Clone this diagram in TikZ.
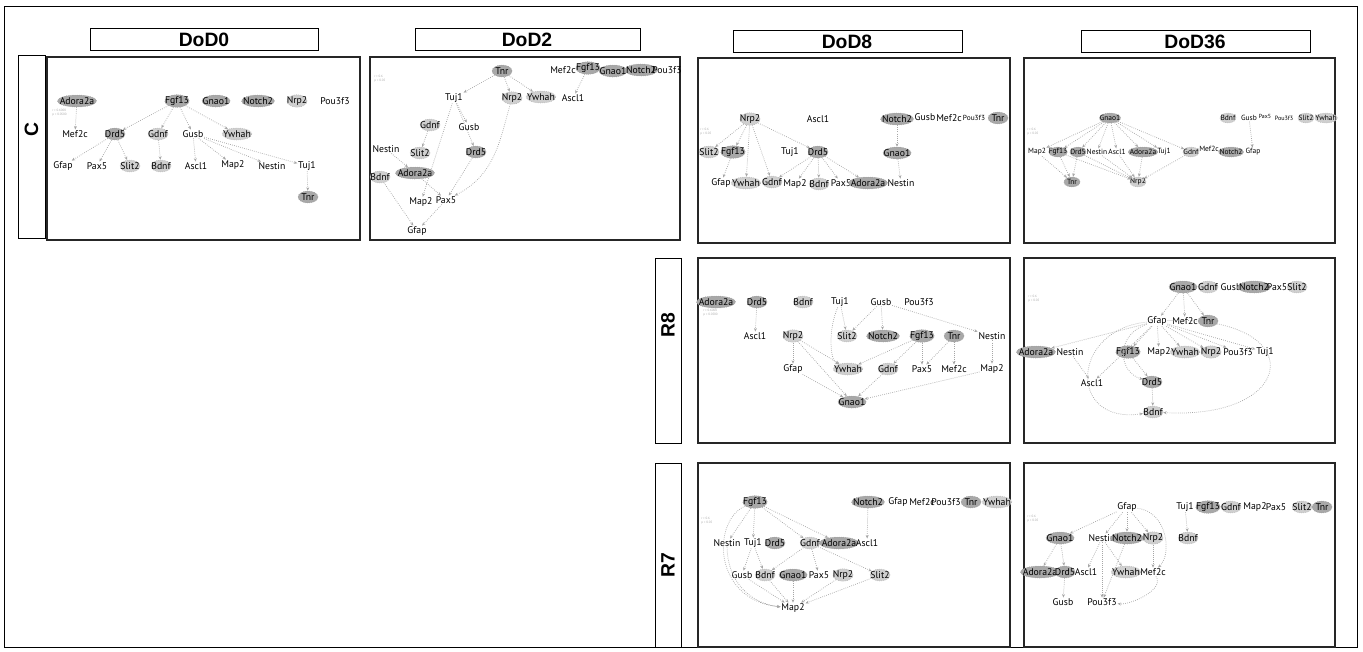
\documentclass[tikz,border=0pt]{standalone}
\usepackage{fontspec}
\setmainfont{Liberation Sans}
\newfontfamily\gf{PT Sans}
\usetikzlibrary{shapes.geometric,arrows.meta}
\def\gsz{7.3}
\tikzset{
  gene/.style={font=\gf\fontsize{\gsz}{\gsz}\selectfont, inner sep=0.5pt},
  tx/.style={gene},
  dk/.style={gene, ellipse, fill=gray!68, draw=gray!85, densely dotted, inner xsep=-2.5pt, inner ysep=0pt, minimum width=15pt, minimum height=9pt},
  lt/.style={dk, fill=gray!38, draw=gray!65},
  ed/.style={draw=gray!70, densely dotted, line width=0.55pt, -{Stealth[length=2.6pt,width=2.2pt]}},
  cellbox/.style={draw=black!85, line width=0.9pt},
  framebox/.style={draw=black, line width=0.6pt},
  hdr/.style={font=\bfseries\fontsize{14.5}{16}\selectfont, inner sep=0pt},
  tinyt/.style={font=\gf\fontsize{2.4}{2.8}\selectfont, text=gray!70, align=left, inner sep=0pt, anchor=north west},
  smallcell/.style={dk/.append style={minimum width=12pt, minimum height=7.5pt, inner xsep=-2pt}}
}
\begin{document}
\begin{tikzpicture}[x=0.75pt,y=-0.75pt]
\useasboundingbox (0,0) rectangle (1363,651);
\draw[framebox] (4,6) rectangle (1357,647);
% headers
\draw[framebox] (90,28) rectangle (318,50);
\node[hdr] (hD0) at (204,39.5) {DoD0};
\draw[framebox] (415,28) rectangle (640,50);
\node[hdr] (hD2) at (527,39.5) {DoD2};
\draw[framebox] (733,30) rectangle (962,52);
\node[hdr] (hD8) at (847,41.5) {DoD8};
\draw[framebox] (1081,30) rectangle (1310,52);
\node[hdr] (hD36) at (1195,41.5) {DoD36};
% row labels
\draw[framebox] (18,55) rectangle (45,238);
\node[hdr, rotate=90] (rC) at (31.5,130) {C};
\draw[framebox] (655,258) rectangle (681,443);
\node[hdr, rotate=90] (rR8) at (668,325) {R8};
\draw[framebox] (655,463) rectangle (681,647);
\node[hdr, rotate=90] (rR7) at (668,565) {R7};
% cells
\draw[cellbox] (47,57) rectangle (360,240);
\draw[cellbox] (370,57) rectangle (680,240);
\draw[cellbox] (698,58) rectangle (1010,243);
\draw[cellbox] (1024,58) rectangle (1335,243);
\draw[cellbox] (698,258) rectangle (1010,443);
\draw[cellbox] (1024,258) rectangle (1335,443);
\draw[cellbox] (698,463) rectangle (1010,647);
\draw[cellbox] (1024,463) rectangle (1335,647);

% ---------- C / DoD0 ----------
\node[dk] (aAdo) at (77,101) {Adora2a};
\node[dk] (aFgf) at (177,101) {Fgf13};
\node[dk] (aGna) at (216,101) {Gnao1};
\node[dk] (aNot) at (258,101) {Notch2};
\node[lt] (aNrp) at (297,101) {Nrp2};
\node[tx] (aPou) at (335,101) {Pou3f3};
\node[tinyt] (aLeg) at (52,109) {r > 0.6000\\p < 0.0500};
\node[tx] (aMef) at (75,134) {Mef2c};
\node[dk] (aDrd) at (115,134) {Drd5};
\node[lt] (aGdn) at (158,134) {Gdnf};
\node[tx] (aGus) at (193,134) {Gusb};
\node[lt] (aYwh) at (237,134) {Ywhah};
\node[tx] (aGfa) at (63,166) {Gfap};
\node[tx] (aPax) at (97,166) {Pax5};
\node[lt] (aSli) at (130,166) {Slit2};
\node[lt] (aBdn) at (161,166) {Bdnf};
\node[tx] (aAsc) at (196,166) {Ascl1};
\node[tx] (aMap) at (233,165) {Map2};
\node[tx] (aNes) at (272,166) {Nestin};
\node[tx] (aTuj) at (307,166) {Tuj1};
\node[dk] (aTnr) at (308,197) {Tnr};
\draw[ed] (aAdo) -- (aMef);
\draw[ed] (aFgf) -- (aDrd);
\draw[ed] (aFgf) -- (aGdn);
\draw[ed] (aFgf) -- (aGus);
\draw[ed] (aFgf) -- (aYwh);
\draw[ed] (aDrd) -- (aGfa);
\draw[ed] (aDrd) -- (aPax);
\draw[ed] (aDrd) -- (aSli);
\draw[ed] (aGdn) -- (aBdn);
\draw[ed] (aGus) -- (aAsc);
\draw[ed] (aGus) -- (aMap);
\draw[ed] (aGus) -- (aNes);
\draw[ed] (aGus) -- (aTuj);
\draw[ed] (aTuj) -- (aTnr);

% ---------- C / DoD2 ----------
\node[tinyt] (bLeg) at (374,75) {r > 0.6\\p < 0.05};
\node[dk] (bTnr) at (502,71) {Tnr};
\node[tx] (bMef) at (563,70) {Mef2c};
\node[dk] (bFgf) at (588,68) {Fgf13};
\node[dk] (bGna) at (613,71) {Gnao1};
\node[dk] (bNot) at (641,70) {Notch2};
\node[tx] (bPou) at (667,70) {Pou3f3};
\node[lt] (bNrp) at (512,98) {Nrp2};
\node[lt] (bYwh) at (541,97) {Ywhah};
\node[tx] (bAsc) at (573,98) {Ascl1};
\node[tx] (bTuj) at (454,98) {Tuj1};
\node[lt] (bGdn) at (430,125) {Gdnf};
\node[tx] (bGus) at (469,127) {Gusb};
\node[tx] (bNes) at (386,149) {Nestin};
\node[lt] (bSli) at (420,153) {Slit2};
\node[dk] (bDrd) at (476,152) {Drd5};
\node[lt] (bBdn) at (380,177) {Bdnf};
\node[dk] (bAdo) at (415,173) {Adora2a};
\node[tx] (bMap) at (421,202) {Map2};
\node[tx] (bPax) at (446,200) {Pax5};
\node[tx] (bGfa) at (417,231) {Gfap};
\draw[ed] (bTnr) -- (bTuj);
\draw[ed] (bTnr) -- (bNrp);
\draw[ed] (bTnr) -- (bYwh);
\draw[ed] (bFgf) -- (bAsc);
\draw[ed] (bTuj) -- (bGus);
\draw[ed] (bTuj) -- (bDrd);
\draw[ed] (bTuj) -- (bMap);
\draw[ed] (bNrp) .. controls (500,140) and (495,175) .. (bPax);
\draw[ed] (bDrd) -- (bPax);
\draw[ed] (bGdn) -- (bSli);
\draw[ed] (bNes) -- (bAdo);
\draw[ed] (bAdo) -- (bPax);
\draw[ed] (bBdn) -- (bGfa);
\draw[ed] (bPax) -- (bGfa);

% ---------- C / DoD8 ----------
\node[lt] (cNrp) at (750,119) {Nrp2};
\node[tx] (cAsc) at (818,119) {Ascl1};
\node[dk] (cNot) at (897,119) {Notch2};
\node[tx] (cGus) at (925,117) {Gusb};
\node[tx] (cMef) at (949,118) {Mef2c};
\node[tx, font=\gf\fontsize{5.5}{6}\selectfont] (cPou) at (974,118) {Pou3f3};
\node[dk] (cTnr) at (998,118) {Tnr};
\node[tinyt] (cLeg) at (700,128) {r > 0.6\\p < 0.05};
\node[lt] (cSli) at (709,152) {Slit2};
\node[dk] (cFgf) at (733,152) {Fgf13};
\node[tx] (cTuj) at (790,152) {Tuj1};
\node[dk] (cDrd) at (818,152) {Drd5};
\node[dk] (cGna) at (897,153) {Gnao1};
\node[tx] (cGfa) at (721,183) {Gfap};
\node[lt] (cYwh) at (746,183) {Ywhah};
\node[lt] (cGdn) at (772,182) {Gdnf};
\node[tx] (cMap) at (795,184) {Map2};
\node[lt] (cBdn) at (819,184) {Bdnf};
\node[tx] (cPax) at (841,183) {Pax5};
\node[dk] (cAdo) at (868,183) {Adora2a};
\node[tx] (cNes) at (901,183) {Nestin};
\draw[ed] (cNrp) -- (cSli);
\draw[ed] (cNrp) -- (cFgf);
\draw[ed] (cNrp) -- (cYwh);
\draw[ed] (cNrp) -- (cGdn);
\draw[ed] (cNrp) -- (cDrd);
\draw[ed] (cFgf) -- (cGfa);
\draw[ed] (cDrd) -- (cGdn);
\draw[ed] (cDrd) -- (cMap);
\draw[ed] (cDrd) -- (cBdn);
\draw[ed] (cDrd) -- (cPax);
\draw[ed] (cDrd) -- (cAdo);
\draw[ed] (cNot) -- (cGna);
\draw[ed] (cGna) -- (cNes);

% ---------- C / DoD36 ----------
\begin{scope}[smallcell]
\def\gsz{5.6}
\node[tinyt] (dLeg) at (1027,128) {r > 0.6\\p < 0.05};
\node[dk] (dGna) at (1110,118) {Gnao1};
\node[lt] (dBdn) at (1228,118) {Bdnf};
\node[tx] (dGus) at (1249,118) {Gusb};
\node[tx, font=\gf\fontsize{4.4}{5}\selectfont] (dPax) at (1265,116) {Pax5};
\node[tx, font=\gf\fontsize{4.6}{5}\selectfont] (dPou) at (1284,118) {Pou3f3};
\node[lt] (dSli) at (1306,118) {Slit2};
\node[lt] (dYwh) at (1326,118) {Ywhah};
\node[tx] (dMap) at (1037,152) {Map2};
\node[dk] (dFgf) at (1058,152) {Fgf13};
\node[dk] (dDrd) at (1078,152) {Drd5};
\node[tx] (dNes) at (1097,152) {Nestin};
\node[tx] (dAsc) at (1117,152) {Ascl1};
\node[dk] (dAdo) at (1143,152) {Adora2a};
\node[tx] (dTuj) at (1164,152) {Tuj1};
\node[lt] (dGdn) at (1191,152) {Gdnf};
\node[tx] (dMef) at (1209,149) {Mef2c};
\node[dk] (dNot) at (1231,152) {Notch2};
\node[tx] (dGfa) at (1253,152) {Gfap};
\node[dk] (dTnr) at (1072,182) {Tnr};
\node[lt] (dNrp) at (1138,182) {Nrp2};
\draw[ed] (dGna) -- (dMap);
\draw[ed] (dGna) -- (dFgf);
\draw[ed] (dGna) -- (dDrd);
\draw[ed] (dGna) -- (dNes);
\draw[ed] (dGna) -- (dAsc);
\draw[ed] (dGna) -- (dAdo);
\draw[ed] (dGna) -- (dTuj);
\draw[ed] (dGna) -- (dGdn);
\draw[ed] (dMap) -- (dTnr);
\draw[ed] (dFgf) -- (dTnr);
\draw[ed] (dDrd) -- (dTnr);
\draw[ed] (dFgf) -- (dNrp);
\draw[ed] (dDrd) -- (dNrp);
\draw[ed] (dNes) -- (dNrp);
\draw[ed] (dAsc) -- (dNrp);
\draw[ed] (dAdo) -- (dNrp);
\draw[ed] (dGdn) -- (dNrp);
\draw[ed] (dGus) -- (dGfa);
\end{scope}

% ---------- R8 / DoD8 ----------
\node[dk] (eAdo) at (716,302) {Adora2a};
\node[tinyt] (eLeg) at (703,309) {r > 0.6000\\p < 0.0500};
\node[dk] (eDrd) at (757,302) {Drd5};
\node[lt] (eBdn) at (803,302) {Bdnf};
\node[tx] (eTuj) at (840,302) {Tuj1};
\node[tx] (eGus) at (881,302) {Gusb};
\node[tx] (ePou) at (919,302) {Pou3f3};
\node[tx] (eAsc) at (755,336) {Ascl1};
\node[lt] (eNrp) at (793,336) {Nrp2};
\node[lt] (eSli) at (847,336) {Slit2};
\node[dk] (eNot) at (883,336) {Notch2};
\node[dk] (eFgf) at (922,336) {Fgf13};
\node[dk] (eTnr) at (954,336) {Tnr};
\node[tx] (eNes) at (992,336) {Nestin};
\node[tx] (eGfa) at (793,369) {Gfap};
\node[lt] (eYwh) at (848,369) {Ywhah};
\node[lt] (eGdn) at (888,369) {Gdnf};
\node[tx] (ePax) at (922,369) {Pax5};
\node[tx] (eMef) at (954,369) {Mef2c};
\node[tx] (eMap) at (992,369) {Map2};
\node[dk] (eGna) at (852,402) {Gnao1};
\draw[ed] (eDrd) -- (eAsc);
\draw[ed] (eTuj) -- (eSli);
\draw[ed] (eTuj) .. controls (828,330) and (830,360) .. (eYwh);
\draw[ed] (eGus) -- (eSli);
\draw[ed] (eGus) -- (eNot);
\draw[ed] (eGus) -- (eNes);
\draw[ed] (eNrp) -- (eGfa);
\draw[ed] (eNrp) -- (eYwh);
\draw[ed] (eNrp) -- (eGna);
\draw[ed] (eFgf) -- (eYwh);
\draw[ed] (eFgf) -- (eGdn);
\draw[ed] (eFgf) -- (ePax);
\draw[ed] (eTnr) -- (ePax);
\draw[ed] (eTnr) -- (eMef);
\draw[ed] (eNes) -- (eMap);
\draw[ed] (eGfa) -- (eGna);
\draw[ed] (eGdn) -- (eGna);
\draw[ed] (eMap) -- (eGna);

% ---------- R8 / DoD36 ----------
\node[tinyt] (fLeg) at (1028,295) {r > 0.6\\p < 0.05};
\node[dk] (fGna) at (1183,287) {Gnao1};
\node[lt] (fGdn) at (1208,287) {Gdnf};
\node[tx] (fGus) at (1231,287) {Gusb};
\node[dk] (fNot) at (1254,287) {Notch2};
\node[tx] (fPax) at (1277,287) {Pax5};
\node[lt] (fSli) at (1297,287) {Slit2};
\node[tx] (fGfa) at (1157,321) {Gfap};
\node[tx] (fMef) at (1185,321) {Mef2c};
\node[dk] (fTnr) at (1208,321) {Tnr};
\node[dk] (fAdo) at (1036,352) {Adora2a};
\node[tx] (fNes) at (1070,352) {Nestin};
\node[dk] (fFgf) at (1128,352) {Fgf13};
\node[tx] (fMap) at (1159,352) {Map2};
\node[lt] (fYwh) at (1185,352) {Ywhah};
\node[lt] (fNrp) at (1211,352) {Nrp2};
\node[tx] (fPou) at (1238,352) {Pou3f3};
\node[tx] (fTuj) at (1265,352) {Tuj1};
\node[tx] (fAsc) at (1092,383) {Ascl1};
\node[dk] (fDrd) at (1152,382) {Drd5};
\node[lt] (fBdn) at (1153,412) {Bdnf};
\draw[ed] (fGna) -- (fGfa);
\draw[ed] (fGna) -- (fMef);
\draw[ed] (fGna) -- (fTnr);
\draw[ed] (fGfa) -- (fAdo);
\draw[ed] (fGfa) -- (fFgf);
\draw[ed] (fGfa) -- (fMap);
\draw[ed] (fGfa) -- (fYwh);
\draw[ed] (fGfa) -- (fNrp);
\draw[ed] (fGfa) -- (fPou);
\draw[ed] (fGfa) -- (fTuj);
\draw[ed] (fGfa) -- (fAsc);
\draw[ed] (fNes) -- (fAsc);
\draw[ed] (fFgf) -- (fDrd);
\draw[ed] (fGfa) .. controls (1115,335) and (1118,372) .. (fDrd);
\draw[ed] (fDrd) -- (fBdn);
\draw[ed] (fGfa) .. controls (1070,330) and (1068,425) .. (fBdn);
\draw[ed] (fGfa) .. controls (1310,315) and (1300,420) .. (fBdn);

% ---------- R7 / DoD8 ----------
\node[tinyt] (gLeg) at (701,517) {r > 0.6\\p < 0.05};
\node[dk] (gFgf) at (755,502) {Fgf13};
\node[dk] (gNot) at (868,502) {Notch2};
\node[tx] (gGfa) at (898,502) {Gfap};
\node[tx] (gMef) at (922,502) {Mef2c};
\node[tx] (gPou) at (946,502) {Pou3f3};
\node[dk] (gTnr) at (971,502) {Tnr};
\node[lt] (gYwh) at (997,502) {Ywhah};
\node[tx] (gNes) at (727,543) {Nestin};
\node[tx] (gTuj) at (753,543) {Tuj1};
\node[dk] (gDrd) at (775,543) {Drd5};
\node[lt] (gGdn) at (810,543) {Gdnf};
\node[dk] (gAdo) at (839,543) {Adora2a};
\node[tx] (gAsc) at (867,543) {Ascl1};
\node[tx] (gGus) at (742,575) {Gusb};
\node[lt] (gBdn) at (765,575) {Bdnf};
\node[dk] (gGna) at (793,575) {Gnao1};
\node[tx] (gPax) at (819,575) {Pax5};
\node[lt] (gNrp) at (843,575) {Nrp2};
\node[lt] (gSli) at (880,575) {Slit2};
\node[tx] (gMap) at (793,608) {Map2};
\draw[ed] (gFgf) -- (gNes);
\draw[ed] (gFgf) -- (gTuj);
\draw[ed] (gFgf) -- (gGdn);
\draw[ed] (gFgf) -- (gAdo);
\draw[ed] (gFgf) .. controls (712,520) and (712,600) .. (gMap);
\draw[ed] (gNot) -- (gAsc);
\draw[ed] (gTuj) -- (gGus);
\draw[ed] (gTuj) -- (gBdn);
\draw[ed] (gGdn) -- (gBdn);
\draw[ed] (gGdn) -- (gPax);
\draw[ed] (gGdn) -- (gSli);
\draw[ed] (gNes) .. controls (728,590) and (760,605) .. (gMap);
\draw[ed] (gGus) -- (gMap);
\draw[ed] (gBdn) -- (gMap);
\draw[ed] (gGna) -- (gMap);
\draw[ed] (gNrp) -- (gMap);
\draw[ed] (gSli) -- (gMap);

% ---------- R7 / DoD36 ----------
\node[tinyt] (hLeg) at (1027,515) {r > 0.6\\p < 0.05};
\node[tx] (hGfa) at (1127,507) {Gfap};
\node[tx] (hTuj) at (1185,507) {Tuj1};
\node[dk] (hFgf) at (1208,507) {Fgf13};
\node[lt] (hGdn) at (1231,507) {Gdnf};
\node[tx] (hMap) at (1255,507) {Map2};
\node[tx] (hPax) at (1276,507) {Pax5};
\node[lt] (hSli) at (1302,507) {Slit2};
\node[dk] (hTnr) at (1322,507) {Tnr};
\node[dk] (hGna) at (1060,538) {Gnao1};
\node[tx] (hNes) at (1102,538) {Nestin};
\node[dk] (hNot) at (1127,538) {Notch2};
\node[lt] (hNrp) at (1153,538) {Nrp2};
\node[lt] (hBdn) at (1188,538) {Bdnf};
\node[dk] (hAdo) at (1040,572) {Adora2a};
\node[dk] (hDrd) at (1065,572) {Drd5};
\node[tx] (hAsc) at (1086,572) {Ascl1};
\node[lt] (hYwh) at (1126,572) {Ywhah};
\node[tx] (hMef) at (1153,572) {Mef2c};
\node[tx] (hGus) at (1063,602) {Gusb};
\node[tx] (hPou) at (1102,602) {Pou3f3};
\draw[ed] (hGfa) -- (hGna);
\draw[ed] (hGfa) -- (hNes);
\draw[ed] (hGfa) -- (hNot);
\draw[ed] (hGfa) -- (hNrp);
\draw[ed] (hGfa) .. controls (1168,512) and (1172,555) .. (hMef);
\draw[ed] (hTuj) -- (hBdn);
\draw[ed] (hNrp) -- (hMef);
\draw[ed] (hGna) -- (hAdo);
\draw[ed] (hGna) -- (hDrd);
\draw[ed] (hDrd) -- (hGus);
\draw[ed] (hNes) -- (hAsc);
\draw[ed] (hNes) -- (hYwh);
\draw[ed] (hNes) -- (hPou);
\draw[ed] (hNot) -- (hPou);
\draw[ed] (hMef) .. controls (1165,590) and (1130,605) .. (hPou);
\end{tikzpicture}
\end{document}
